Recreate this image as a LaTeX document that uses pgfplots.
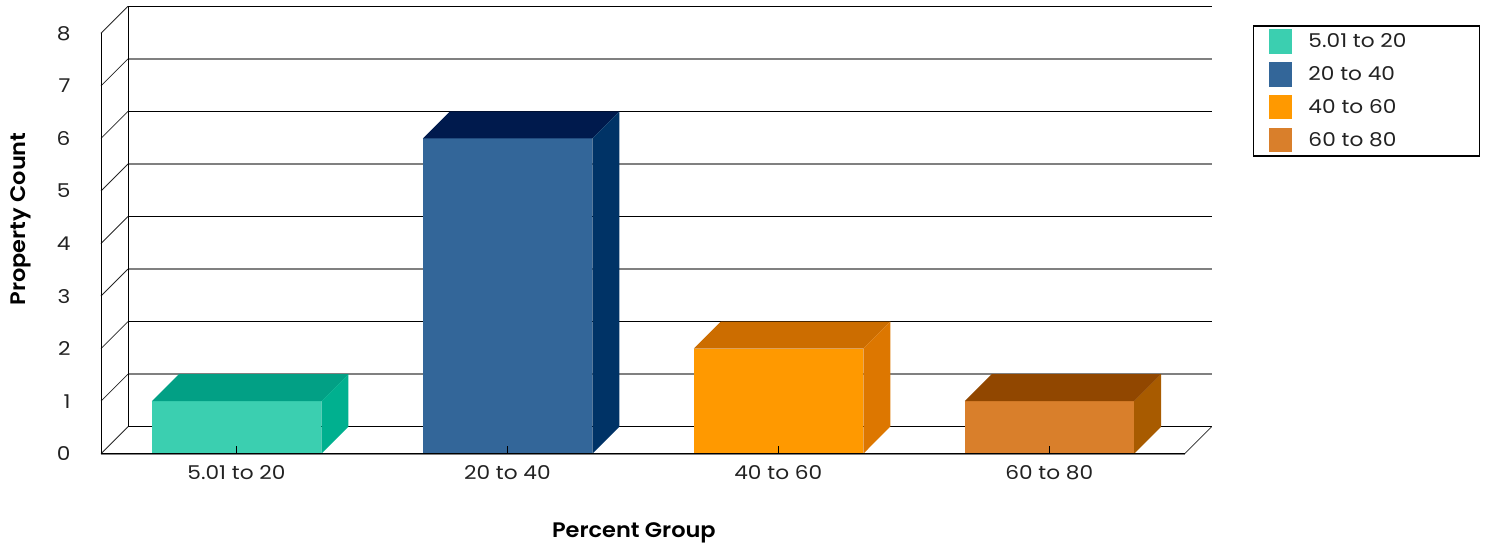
\documentclass[border=0pt]{standalone}
\usepackage{pgfplots}
\pgfplotsset{compat=1.18}
\usepackage{fontspec}
\setmainfont[FakeStretch=1.14]{Poppins}
\newfontfamily\titlefont[FakeStretch=1.07]{Poppins SemiBold}
\definecolor{txt}{HTML}{222222}
\definecolor{tealF}{HTML}{3BCFB0}
\definecolor{tealT}{HTML}{02A085}
\definecolor{tealS}{HTML}{00B08F}
\definecolor{blueF}{HTML}{336699}
\definecolor{blueT}{HTML}{001A4D}
\definecolor{blueS}{HTML}{003366}
\definecolor{orngF}{HTML}{FF9900}
\definecolor{orngT}{HTML}{CC6D00}
\definecolor{orngS}{HTML}{DD7700}
\definecolor{brwnF}{HTML}{D97F2B}
\definecolor{brwnT}{HTML}{914700}
\definecolor{brwnS}{HTML}{A85B00}
\pgfplotsset{
  gridA/.style={black,line width=0.9pt,forget plot},
  gridB/.style={black!50,line width=1.6pt,forget plot},
  diag/.style={black!85,line width=0.8pt,forget plot},
  face/.style={fill=#1,draw=none,forget plot},
}
\begin{document}
\begin{tikzpicture}[x=1pt,y=1pt]
\useasboundingbox (0,0) rectangle (1485,547);
\begin{axis}[
  at={(101pt,93.3pt)},anchor=south west,
  scale only axis,width=1110.7pt,height=447.4pt,
  xmin=-0.5,xmax=3.5996,ymin=0,ymax=8.5138,
  clip=false,no markers,axis on top,
  axis line style={draw=none},
  xtick={0,1,2,3},xticklabels={5.01 to 20,20 to 40,40 to 60,60 to 80},
  ytick={0,1,...,8},
  xtick pos=bottom,ytick pos=left,
  tick align=inside,
  major tick length=7.7pt,
  xtick style={black,line width=0.8pt},
  ytick style={draw=none},
  tick label style={text=txt,font=\fontsize{19}{22}\selectfont},
  /pgf/number format/assume math mode=true,
  xticklabel style={yshift=-8pt},
  yticklabel style={xshift=-27pt},
  xlabel={Percent Group},ylabel={Property Count},
  xlabel style={at={(axis cs:1.467,-1.51)},anchor=center,font=\titlefont\fontsize{21}{24}\selectfont,text=black},
  ylabel style={at={(axis cs:-0.795,4.466)},anchor=center,rotate=0,font=\titlefont\fontsize{21}{24}\selectfont,text=black},
  legend style={at={(axis cs:3.751,8.158)},anchor=north west,draw=black,line width=1.6pt,
    inner xsep=16pt,inner ysep=3.6pt,font=\fontsize{19}{22}\selectfont,text=txt,
    nodes={inner sep=0pt},
    /tikz/row sep=8.4pt},
  legend cell align=left,
  legend image code/.code={\path[#1,draw=none] (0pt,-12.2pt) rectangle (23pt,12.2pt);},
]
% back wall gridlines
\addplot[gridA] coordinates {(-0.4004,0.5138)(3.5996,0.5138)};
\addplot[gridB] coordinates {(-0.4004,1.5138)(3.5996,1.5138)};
\addplot[gridA] coordinates {(-0.4004,2.5138)(3.5996,2.5138)};
\addplot[gridB] coordinates {(-0.4004,3.5138)(3.5996,3.5138)};
\addplot[gridA] coordinates {(-0.4004,4.5138)(3.5996,4.5138)};
\addplot[gridB] coordinates {(-0.4004,5.5138)(3.5996,5.5138)};
\addplot[gridA] coordinates {(-0.4004,6.5138)(3.5996,6.5138)};
\addplot[gridB] coordinates {(-0.4004,7.5138)(3.5996,7.5138)};
\addplot[gridA] coordinates {(-0.4004,8.5138)(3.5996,8.5138)};
% side wall diagonals
\addplot[diag] coordinates {(-0.5,0)(-0.4004,0.5138)};
\addplot[diag] coordinates {(-0.5,1)(-0.4004,1.5138)};
\addplot[diag] coordinates {(-0.5,2)(-0.4004,2.5138)};
\addplot[diag] coordinates {(-0.5,3)(-0.4004,3.5138)};
\addplot[diag] coordinates {(-0.5,4)(-0.4004,4.5138)};
\addplot[diag] coordinates {(-0.5,5)(-0.4004,5.5138)};
\addplot[diag] coordinates {(-0.5,6)(-0.4004,6.5138)};
\addplot[diag] coordinates {(-0.5,7)(-0.4004,7.5138)};
\addplot[diag] coordinates {(-0.5,8)(-0.4004,8.5138)};
\addplot[diag] coordinates {(3.5,0)(3.5996,0.5138)};
% wall verticals
\addplot[gridA] coordinates {(-0.5,0)(-0.5,8)};
\addplot[gridA] coordinates {(-0.4004,0.5138)(-0.4004,8.5138)};
% bar fronts carry the legend
\addplot[fill=tealF,draw=none] coordinates {(-0.3118,0)(-0.3118,1)(0.3137,1)(0.3137,0)} --cycle;
\addplot[fill=blueF,draw=none] coordinates {(0.6882,0)(0.6882,6)(1.3137,6)(1.3137,0)} --cycle;
\addplot[fill=orngF,draw=none] coordinates {(1.6882,0)(1.6882,2)(2.3137,2)(2.3137,0)} --cycle;
\addplot[fill=brwnF,draw=none] coordinates {(2.6882,0)(2.6882,1)(3.3137,1)(3.3137,0)} --cycle;
\legend{\makebox[171pt][l]{\hspace{16pt}5.01 to 20},\makebox[171pt][l]{\hspace{16pt}20 to 40},\makebox[171pt][l]{\hspace{16pt}40 to 60},\makebox[171pt][l]{\hspace{16pt}60 to 80}}
% bar tops
\addplot[face=tealT] coordinates {(-0.3118,1)(0.3137,1)(0.4133,1.5138)(-0.2122,1.5138)} --cycle;
\addplot[face=blueT] coordinates {(0.6882,6)(1.3137,6)(1.4133,6.5138)(0.7878,6.5138)} --cycle;
\addplot[face=orngT] coordinates {(1.6882,2)(2.3137,2)(2.4133,2.5138)(1.7878,2.5138)} --cycle;
\addplot[face=brwnT] coordinates {(2.6882,1)(3.3137,1)(3.4133,1.5138)(2.7878,1.5138)} --cycle;
% bar right sides
\addplot[face=tealS] coordinates {(0.3137,0)(0.3137,1)(0.4133,1.5138)(0.4133,0.5138)} --cycle;
\addplot[face=blueS] coordinates {(1.3137,0)(1.3137,6)(1.4133,6.5138)(1.4133,0.5138)} --cycle;
\addplot[face=orngS] coordinates {(2.3137,0)(2.3137,2)(2.4133,2.5138)(2.4133,0.5138)} --cycle;
\addplot[face=brwnS] coordinates {(3.3137,0)(3.3137,1)(3.4133,1.5138)(3.4133,0.5138)} --cycle;
% front edge of the floor
\addplot[gridB] coordinates {(-0.5,0)(3.5,0)};
\addplot[black,line width=0.6pt,forget plot] coordinates {(-0.5,0)(3.5,0)};
\end{axis}
\end{tikzpicture}
\end{document}
